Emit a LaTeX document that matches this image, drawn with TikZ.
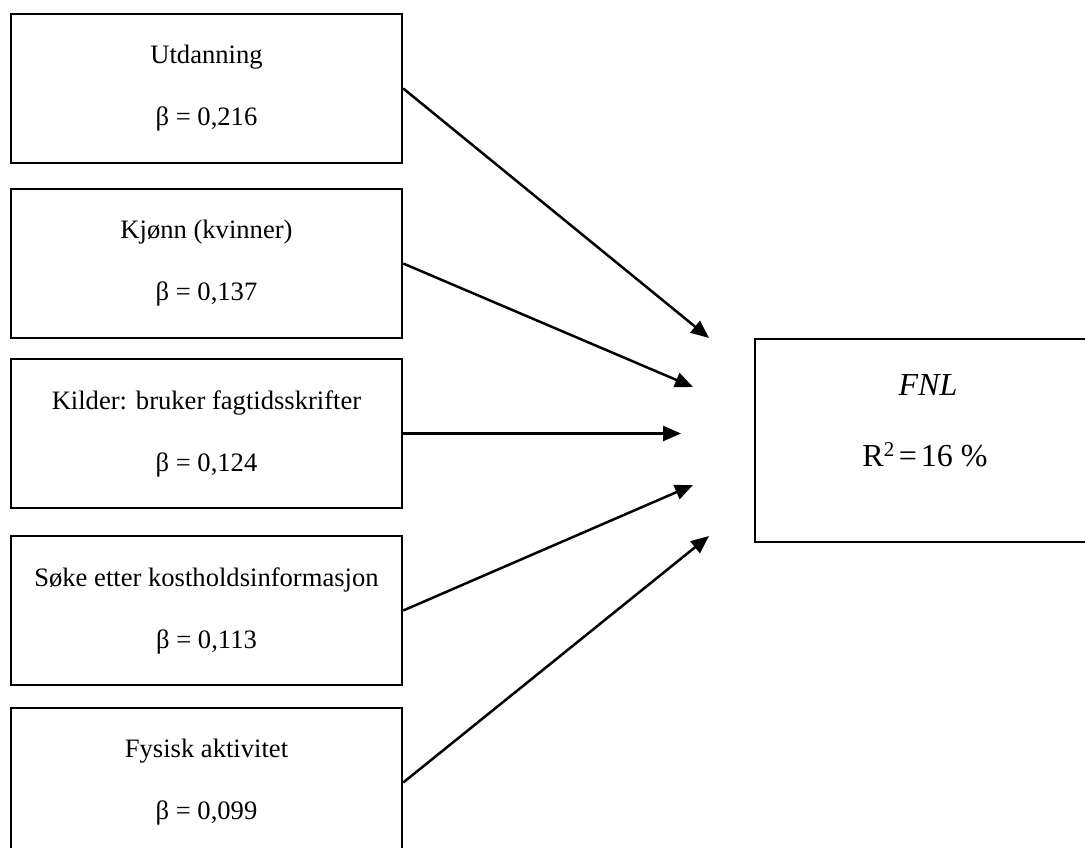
\documentclass[tikz,border=0pt]{standalone}
\usepackage{fontspec}
\setmainfont{Liberation Serif}
\usetikzlibrary{arrows.meta}
\begin{document}
\begin{tikzpicture}[x=1pt,y=-1pt,
  predictor/.style={draw, line width=2.5pt, minimum width=391pt, minimum height=149pt,
    inner sep=0pt, align=center, font=\fontsize{26.6}{62}\selectfont},
  outcome/.style={draw, line width=2.5pt, minimum width=346pt, minimum height=203pt, inner sep=0pt},
  outtext/.style={anchor=base, inner sep=0pt, font=\fontsize{32}{38}\selectfont},
  effect/.style={line width=2.5pt, -{Triangle[length=18pt,width=15pt]}}
]
\useasboundingbox (0,0) rectangle (1085,847);

% predictors
\node[predictor] (b1) at (206.5,88.5)  {Utdanning\\β = 0,216};
\node[predictor] (b2) at (206.5,263.5) {Kjønn (kvinner)\\β = 0,137};
\node[predictor] (b3) at (206.5,433.5) {Kilder: bruker fagtidsskrifter\\β = 0,124};
\node[predictor] (b4) at (206.5,610.5) {Søke etter kostholdsinformasjon\\β = 0,113};
\node[predictor] (b5) at (206.5,782.5) {Fysisk aktivitet\\β = 0,099};

% outcome
\node[outcome] (fnl) at (928,440.5) {};
\node[outtext] (fnlname) at (928,395) {\itshape FNL};
\node[outtext] (fnlr2) at (925,466) {R\textsuperscript{\fontsize{21}{21}\selectfont 2}\hspace{4pt}=\hspace{4pt}16 \%};

% arrow tips
\coordinate (t1) at (709,338);
\coordinate (t2) at (693,387);
\coordinate (t3) at (681,433.5);
\coordinate (t4) at (693,485);
\coordinate (t5) at (709,536);

\draw[effect] (b1.east) -- (t1);
\draw[effect] (b2.east) -- (t2);
\draw[effect] (b3.east) -- (t3);
\draw[effect] (b4.east) -- (t4);
\draw[effect] (b5.east) -- (t5);
\end{tikzpicture}
\end{document}
